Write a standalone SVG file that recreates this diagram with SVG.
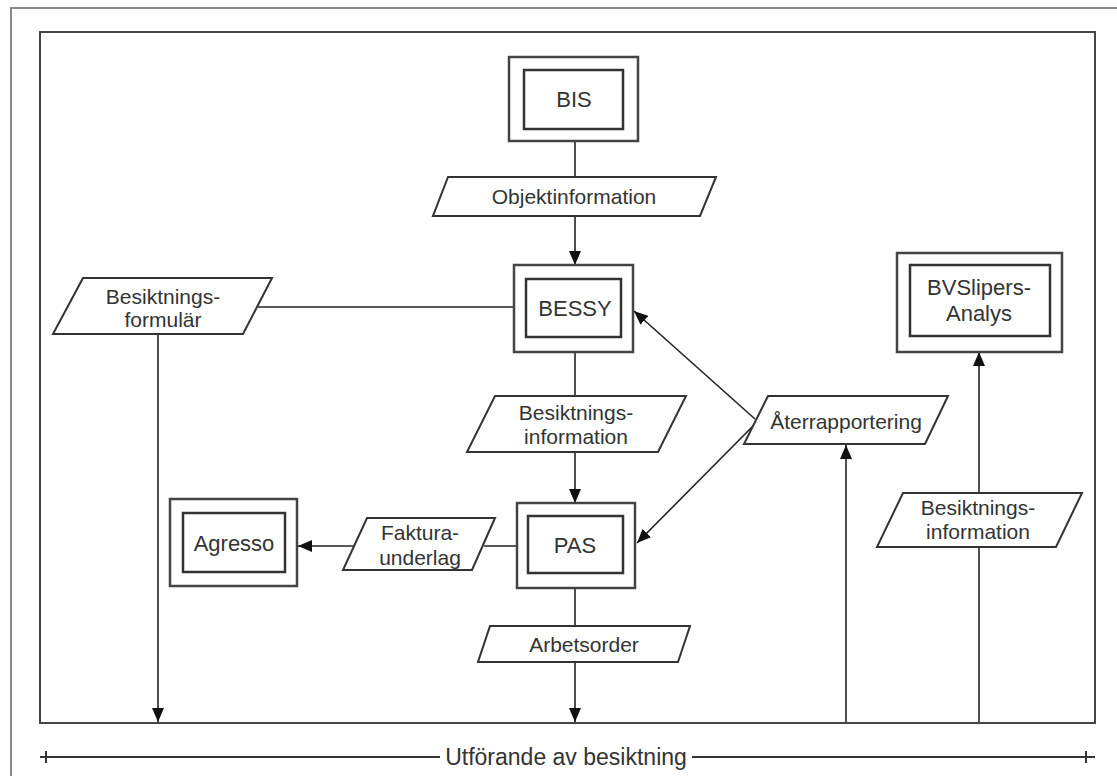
<svg xmlns="http://www.w3.org/2000/svg" width="1117" height="776" viewBox="0 0 1117 776">
<defs>
<marker id="arr" markerUnits="userSpaceOnUse" markerWidth="14" markerHeight="12" viewBox="0 0 14 12" refX="14" refY="6" orient="auto">
<path d="M0,0 L14,6 L0,12 Z" fill="#111"/>
</marker>
</defs>
<style>
.node-o{fill:#fff;stroke:#444;stroke-width:2.5}
.node-i{fill:#fff;stroke:#333;stroke-width:2.5}
.data{fill:#fff;stroke:#333;stroke-width:2}
.con{fill:none;stroke:#222;stroke-width:1.6}
.arrow{marker-end:url(#arr)}
.lbl{font-family:"Liberation Sans",Arial,sans-serif;font-size:22px;fill:#333;text-anchor:middle;dominant-baseline:central}
.dl{font-family:"Liberation Sans",Arial,sans-serif;font-size:21px;fill:#333;text-anchor:middle;dominant-baseline:central}
.frame{fill:none;stroke:#444;stroke-width:2}
</style>
<rect width="1117" height="776" fill="#fff"/>
<path d="M11,776 L11,8 L1117,8" fill="none" stroke="#888" stroke-width="2"/>
<rect class="frame" x="40" y="32" width="1055" height="691"/>

<g id="connectors">
<line class="con" x1="575" y1="141" x2="575" y2="177"/>
<line class="con arrow" x1="575" y1="216" x2="575" y2="265"/>
<line class="con" x1="258" y1="307" x2="514" y2="307"/>
<line class="con arrow" x1="158" y1="334" x2="158" y2="722"/>
<line class="con" x1="575" y1="352" x2="575" y2="396"/>
<line class="con arrow" x1="575" y1="452" x2="575" y2="503"/>
<line class="con" x1="517" y1="546" x2="484" y2="546"/>
<line class="con arrow" x1="355" y1="546" x2="298" y2="546"/>
<line class="con" x1="575" y1="588" x2="575" y2="626"/>
<line class="con arrow" x1="575" y1="662" x2="575" y2="722"/>
<line class="con arrow" x1="755" y1="419" x2="634" y2="311"/>
<line class="con arrow" x1="753" y1="426" x2="637" y2="543"/>
<line class="con arrow" x1="846" y1="722" x2="846" y2="445"/>
<line class="con" x1="979" y1="722" x2="979" y2="547"/>
<line class="con arrow" x1="979" y1="493" x2="979" y2="352"/>
</g>

<g id="BIS">
<rect class="node-o" x="509" y="57" width="129" height="84"/>
<rect class="node-i" x="524" y="70" width="99" height="59"/>
<text class="lbl" x="574" y="99">BIS</text>
</g>

<g id="Objektinformation">
<polygon class="data" points="448,177 716,177 700,216 433,216"/>
<text class="dl" x="574" y="196">Objektinformation</text>
</g>

<g id="BESSY">
<rect class="node-o" x="514" y="265" width="119" height="87"/>
<rect class="node-i" x="526" y="279" width="95" height="58"/>
<text class="lbl" x="575" y="308">BESSY</text>
</g>

<g id="Besiktningsformular">
<polygon class="data" points="83,278 272,278 243,334 53,334"/>
<text class="dl" x="163" y="296">Besiktnings-</text>
<text class="dl" x="163" y="319">formulär</text>
</g>

<g id="Besiktningsinformation1">
<polygon class="data" points="495,396 686,396 658,452 467,452"/>
<text class="dl" x="576" y="412">Besiktnings-</text>
<text class="dl" x="576" y="436">information</text>
</g>

<g id="PAS">
<rect class="node-o" x="517" y="503" width="118" height="85"/>
<rect class="node-i" x="528" y="516" width="95" height="57"/>
<text class="lbl" x="575" y="545">PAS</text>
</g>

<g id="Fakturaunderlag">
<polygon class="data" points="367,518 495,518 472,570 343,570"/>
<text class="dl" x="420" y="532">Faktura-</text>
<text class="dl" x="420" y="557">underlag</text>
</g>

<g id="Agresso">
<rect class="node-o" x="170" y="499" width="127" height="87"/>
<rect class="node-i" x="183" y="513" width="102" height="59"/>
<text class="lbl" x="234" y="543">Agresso</text>
</g>

<g id="Arbetsorder">
<polygon class="data" points="490,626 690,626 678,662 478,662"/>
<text class="dl" x="584" y="644">Arbetsorder</text>
</g>

<g id="Aterrapportering">
<polygon class="data" points="768,396 948,396 925,444 744,444"/>
<text class="dl" x="846" y="421">Återrapportering</text>
</g>

<g id="BVSlipersAnalys">
<rect class="node-o" x="897" y="253" width="165" height="99"/>
<rect class="node-i" x="910" y="265" width="140" height="71"/>
<text class="lbl" x="979" y="287">BVSlipers-</text>
<text class="lbl" x="979" y="313">Analys</text>
</g>

<g id="Besiktningsinformation2">
<polygon class="data" points="903,493 1082,493 1056,547 877,547"/>
<text class="dl" x="978" y="507">Besiktnings-</text>
<text class="dl" x="978" y="531">information</text>
</g>

<g id="scale">
<line x1="40" y1="757" x2="440" y2="757" stroke="#333" stroke-width="2"/>
<line x1="692" y1="757" x2="1095" y2="757" stroke="#333" stroke-width="2"/>
<line x1="46" y1="751" x2="46" y2="763" stroke="#333" stroke-width="2"/>
<line x1="1086" y1="751" x2="1086" y2="763" stroke="#333" stroke-width="2"/>
<text x="566" y="757" font-family="'Liberation Sans',Arial,sans-serif" font-size="23" fill="#333" text-anchor="middle" dominant-baseline="central">Utförande av besiktning</text>
</g>
</svg>
